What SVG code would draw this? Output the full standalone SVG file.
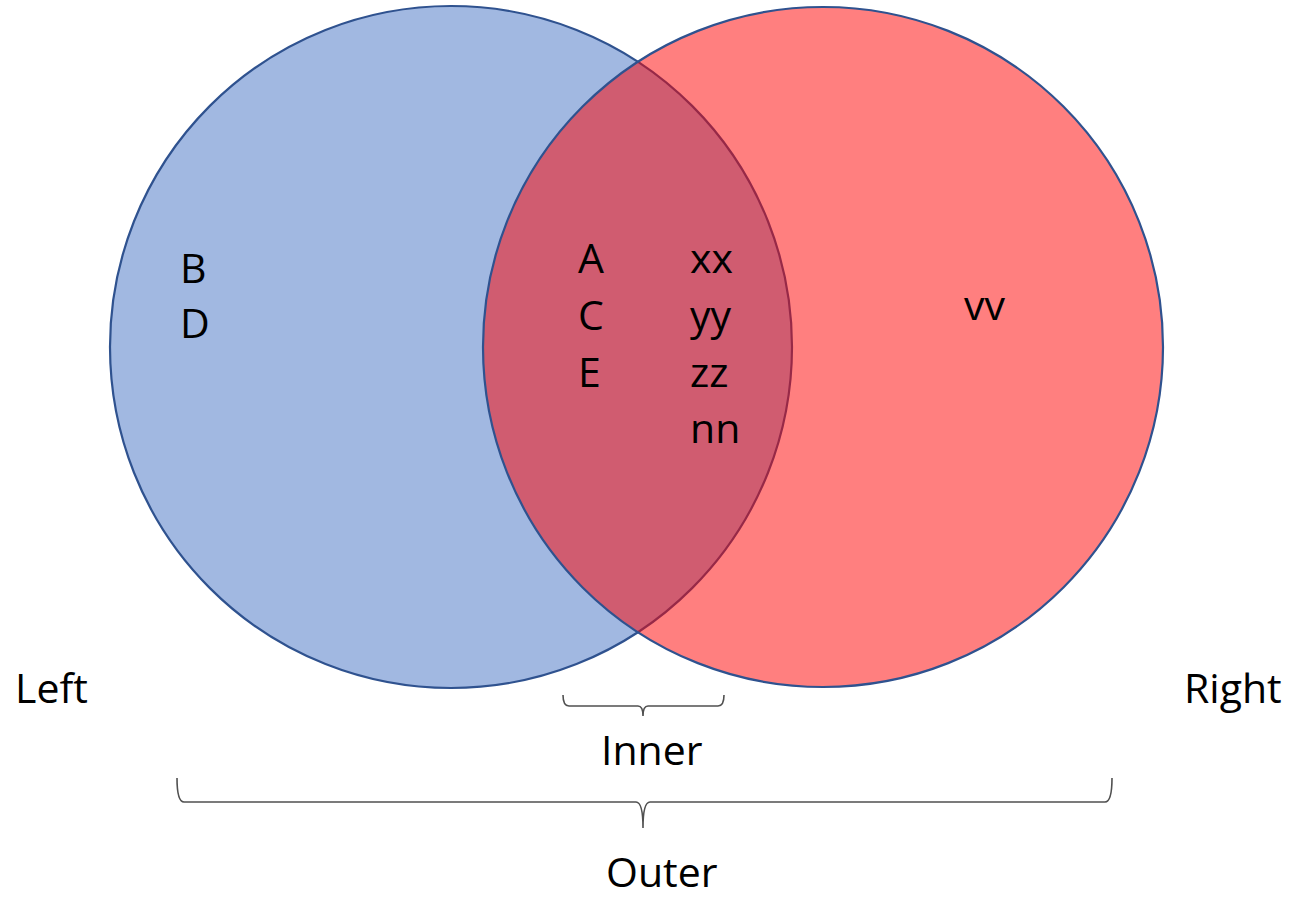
<svg xmlns="http://www.w3.org/2000/svg" width="1293" height="897" viewBox="0 0 1293 897">
<style>
.t{font-family:"Open Sans","Noto Sans",sans-serif;font-size:41px;fill:#000}
.brace{fill:none;stroke:#505050;stroke-width:1.6}
.circ{stroke:#2F528F;stroke-width:2.2}
</style>
<rect width="1293" height="897" fill="#fff"/>
<g id="left-circle"><circle class="circ" cx="451" cy="347" r="341" fill="#4472C4" fill-opacity="0.5"/></g>
<g id="right-circle"><circle class="circ" cx="823" cy="347" r="340" fill="#FF0000" fill-opacity="0.5"/></g>
<g id="left-items"><text class="t" x="180" y="283">B</text><text class="t" x="180" y="338">D</text></g>
<g id="inner-items"><text class="t" x="578" y="273">A</text><text class="t" x="578" y="330">C</text><text class="t" x="578" y="387">E</text>
<text class="t" x="690" y="273">xx</text><text class="t" x="690" y="330">yy</text><text class="t" x="690" y="387">zz</text><text class="t" x="690" y="443">nn</text></g>
<g id="right-items"><text class="t" x="964" y="320">vv</text></g>
<g id="label-left"><text class="t" x="15" y="703">Left</text></g>
<g id="label-right"><text class="t" x="1184" y="703">Right</text></g>
<g id="connectors">
<path class="brace" d="M563,695 Q563,706 569,706 L638,706 Q643,706 643,716 Q643,706 648,706 L718,706 Q724,706 724,695"/>
<path class="brace" d="M177,778 Q177,802 184,802 L636,802 Q643,802 643,828 Q643,802 650,802 L1105,802 Q1112,802 1112,778"/>
</g>
<g id="label-inner"><text class="t" x="601" y="765">Inner</text></g>
<g id="label-outer"><text class="t" x="606" y="887">Outer</text></g>
</svg>
